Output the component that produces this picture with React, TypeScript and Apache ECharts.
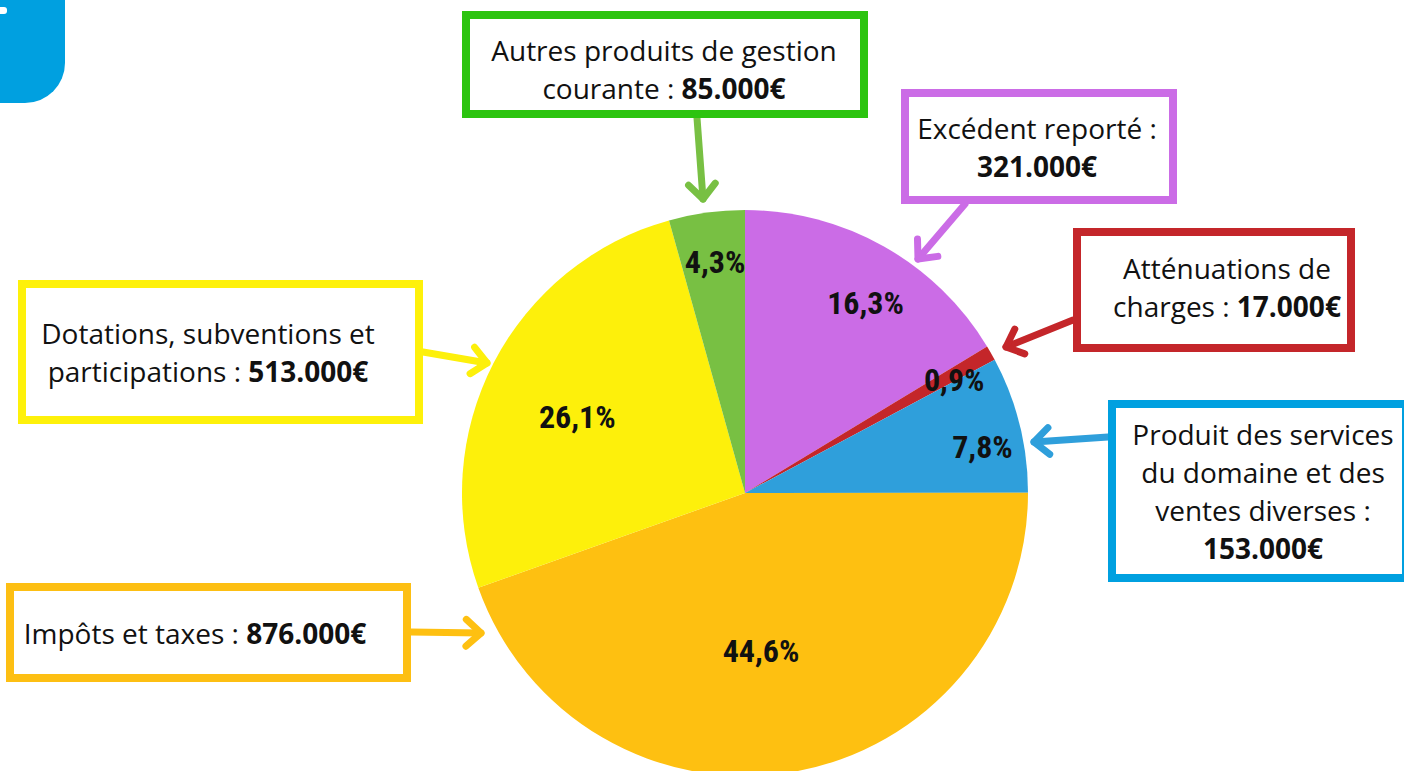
import React, { useEffect, useRef } from "react";
import * as echarts from "echarts";

// ---- data ----
const categories = [
  "Excédent reporté",
  "Atténuations de charges",
  "Produit des services du domaine et des ventes diverses",
  "Impôts et taxes",
  "Dotations, subventions et participations",
  "Autres produits de gestion courante",
];
const values = [321000, 17000, 153000, 876000, 513000, 85000];

// ---- styles / layout ----
const sliceColors = ["#cb6ce6", "#c4262a", "#2f9fdb", "#fec011", "#fdf00b", "#78c043"];
const boxColors = ["#cb6ce6", "#c4262a", "#00a0e0", "#fdbf13", "#fef10a", "#2cc40f"];
const CX = 745;
const CY = 493;
const R = 283;
// inside-label placement: radius fraction and angular shift (deg, clockwise)
const labelRadius = [0.795, 0.84, 0.855, 0.56, 0.65, 0.823];
const labelShift = [3, 1.3, 3, 4, -3.2, 0.4];
// boxes: outer [x0, y0, x1, y1]
const boxes = [
  [901, 89, 1177, 204],
  [1073, 228, 1355, 352],
  [1108, 400, 1410, 582],
  [6, 583, 411, 682],
  [18, 280, 423, 424],
  [462, 11, 868, 118],
];
// text block centers
const textCenters = [
  [1037, 147],
  [1227, 286.5],
  [1263, 491],
  [195, 633],
  [208, 352],
  [664, 69],
];
// words per line (last line takes the rest)
const lineWords = [[3], [2], [3, 4, 3], [], [3], [4]];
// arrows: [fromX, fromY, tipX, tipY]
const arrows = [
  [965, 204, 918, 259],
  [1073, 320, 1006, 347],
  [1108, 437, 1034, 442],
  [411, 632, 481, 633],
  [423, 352, 487, 363],
  [697, 118, 703, 199],
];
const BORDER = 8;
const LINE_H = 38;
const BOX_FONT = 28;
const PCT_FONT = "'Roboto Condensed', 'DejaVu Sans Condensed', 'Liberation Sans Narrow', sans-serif";

function fmtEuro(v: number): string {
  return String(v).replace(/\B(?=(\d{3})+(?!\d))/g, ".") + "€";
}

function boxText(i: number): string {
  const words = (categories[i] + " :").split(" ");
  const lines: string[] = [];
  let k = 0;
  for (const n of lineWords[i]) {
    lines.push(words.slice(k, k + n).join(" "));
    k += n;
  }
  const rest = words.slice(k).join(" ");
  const val = "{b|" + fmtEuro(values[i]) + "}";
  lines.push(rest ? rest + " " + val : val);
  return lines.filter((l) => l.length > 0).join("\n");
}

export default function App() {
  const ref = useRef<HTMLDivElement>(null);
  useEffect(() => {
    if (!ref.current) return;
    const chart = echarts.init(ref.current, undefined, { renderer: "svg" });

    const graphics: any[] = [];
    // top-left decoration
    graphics.push({
      type: "rect",
      shape: { x: -45, y: -45, width: 110, height: 148, r: 40 },
      style: { fill: "#00a0e0" },
      z: 10,
    });
    graphics.push({
      type: "rect",
      shape: { x: -4, y: 7, width: 11, height: 7, r: 3 },
      style: { fill: "#ffffff" },
      z: 11,
    });
    // arrows
    arrows.forEach((a, i) => {
      const [x0, y0, x1, y1] = a;
      const ang = Math.atan2(y1 - y0, x1 - x0);
      const hl = 20;
      const ha = (42 * Math.PI) / 180;
      const p1 = [x1 - hl * Math.cos(ang - ha), y1 - hl * Math.sin(ang - ha)];
      const p2 = [x1 - hl * Math.cos(ang + ha), y1 - hl * Math.sin(ang + ha)];
      const st = { stroke: sliceColors[i], lineWidth: 7, lineCap: "round", lineJoin: "round", fill: "none" };
      graphics.push({ type: "line", shape: { x1: x0, y1: y0, x2: x1, y2: y1 }, style: st, z: 10 });
      graphics.push({ type: "polyline", shape: { points: [p1, [x1, y1], p2] }, style: st, z: 10 });
    });
    // boxes
    boxes.forEach((b, i) => {
      const [x0, y0, x1, y1] = b;
      graphics.push({
        type: "rect",
        shape: { x: x0 + BORDER / 2, y: y0 + BORDER / 2, width: x1 - x0 - BORDER, height: y1 - y0 - BORDER },
        style: { fill: "#ffffff", stroke: boxColors[i], lineWidth: BORDER },
        z: 12,
      });
      graphics.push({
        type: "text",
        x: textCenters[i][0],
        y: textCenters[i][1],
        style: {
          text: boxText(i),
          fontFamily: "Open Sans",
          fontSize: BOX_FONT,
          lineHeight: LINE_H,
          fill: "#111111",
          align: "center",
          verticalAlign: "middle",
          rich: {
            b: { fontFamily: "Open Sans", fontSize: BOX_FONT, fontWeight: "bold", lineHeight: LINE_H, fill: "#111111" },
          },
        },
        z: 13,
      });
    });

    chart.setOption({
      animation: false,
      backgroundColor: "#ffffff",
      series: [
        {
          type: "pie",
          center: [CX, CY],
          radius: R,
          startAngle: 90,
          clockwise: true,
          percentPrecision: 1,
          avoidLabelOverlap: false,
          itemStyle: { borderWidth: 0 },
          label: {
            show: true,
            position: "inside",
            fontFamily: PCT_FONT,
            fontWeight: "bold",
            fontSize: 32,
            color: "#111111",
            formatter: (p: any) => p.percent.toFixed(1).replace(".", ",") + "%",
          },
          labelLine: { show: false },
          labelLayout: (p: any) => {
            const i = p.dataIndex;
            const lr = p.labelRect;
            const lx = lr.x + lr.width / 2;
            const ly = lr.y + lr.height / 2;
            const a = Math.atan2(ly - CY, lx - CX) + (labelShift[i] * Math.PI) / 180;
            const r = R * labelRadius[i];
            return { x: CX + r * Math.cos(a), y: CY + r * Math.sin(a), align: "center", verticalAlign: "middle" };
          },
          emphasis: { disabled: true },
          data: categories.map((c, i) => ({
            name: c,
            value: values[i],
            itemStyle: { color: sliceColors[i] },
          })),
        },
      ],
      graphic: graphics,
    });
    return () => chart.dispose();
  }, []);
  return (
    <div
      ref={ref}
      style={{ position: "fixed", left: 0, top: 0, width: 1404, height: 771 }}
    />
  );
}
